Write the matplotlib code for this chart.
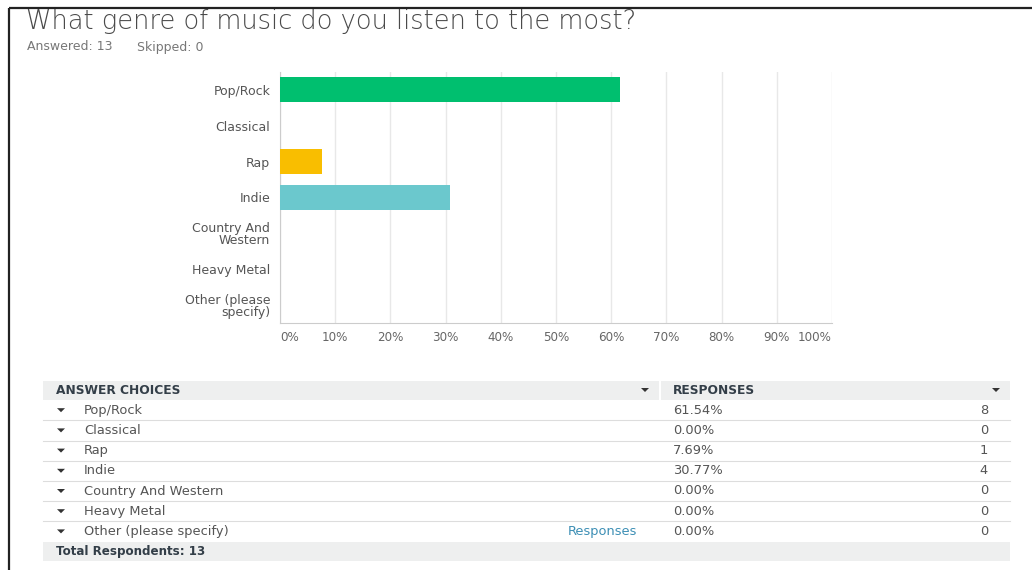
import matplotlib.pyplot as plt
from matplotlib.patches import Rectangle, Polygon

# survey data
labels = ['Pop/Rock', 'Classical', 'Rap', 'Indie', 'Country And\nWestern',
          'Heavy Metal', 'Other (please\nspecify)']
percents = [61.54, 0.0, 7.69, 30.77, 0.0, 0.0, 0.0]
counts = [8, 0, 1, 4, 0, 0, 0]
answered = 13
skipped = 0
bar_colors = ['#00BF6F', '#507CB6', '#F9BE00', '#6BC8CD', '#FF8B4F', '#7D6C9E', '#D25F90']
xticks = list(range(0, 101, 10))

W, H = 1032, 570
fig = plt.figure(figsize=(W / 100, H / 100), dpi=100)
fig.patch.set_facecolor('white')

# full-figure layer in pixel units for the header, table and frame
bg = fig.add_axes([0, 0, 1, 1])
bg.set_xlim(0, W)
bg.set_ylim(H, 0)
bg.set_axis_off()

# page frame
bg.plot([9, W], [8, 8], color='#222222', lw=1.6, solid_capstyle='butt')
bg.plot([9, 9], [8, H], color='#222222', lw=1.6, solid_capstyle='butt')

bg.text(26, 21, 'What genre of music do you listen to the most?', fontsize=18.5,
        color='#4a4a4a', va='center', ha='left', fontweight='light')
bg.text(27, 47, f'Answered: {answered}', fontsize=9, color='#777777', va='center')
bg.text(137, 47, f'Skipped: {skipped}', fontsize=9, color='#777777', va='center')

# bar chart
ax = fig.add_axes([280 / W, 1 - 323 / H, 552 / W, 251 / H])
ax.barh(range(len(labels)), percents, height=0.7, color=bar_colors, zorder=3)
ax.set_xlim(0, 100)
ax.set_ylim(len(labels) - 0.5, -0.5)
ax.set_xticks(xticks)
ticklabels = ax.set_xticklabels([f'{t}%' for t in xticks], fontsize=8.6, color='#666666')
ticklabels[0].set_ha('left')
ticklabels[-1].set_ha('right')
ax.set_yticks(range(len(labels)))
ax.set_yticklabels(labels, fontsize=9, color='#555555', linespacing=0.95)
ax.tick_params(length=0, pad=7)
ax.tick_params(axis='x', pad=6)
ax.grid(axis='x', color='#e8e8e8', lw=1, zorder=0)
for side in ['top', 'right']:
    ax.spines[side].set_visible(False)
for side in ['left', 'bottom']:
    ax.spines[side].set_color('#cccccc')
ax.set_facecolor('none')


def tri(x, y, w=8, h=4, color='#333333'):
    bg.add_patch(Polygon([[x - w / 2, y - h / 2], [x + w / 2, y - h / 2], [x, y + h / 2]],
                         closed=True, color=color, lw=0))


# results table
left, right, split = 43, 1010, 660
row_h = 20.2
head_y = 390
bg.add_patch(Rectangle((left, head_y - 9.5), split - 1 - left, 19, color='#eeefef', lw=0))
bg.add_patch(Rectangle((split + 1, head_y - 9.5), right - split - 1, 19, color='#eeefef', lw=0))
bg.text(56, head_y, 'ANSWER CHOICES', fontsize=8.8, fontweight='bold', color='#333e48', va='center')
bg.text(673, head_y, 'RESPONSES', fontsize=8.8, fontweight='bold', color='#333e48', va='center')
tri(645, head_y)
tri(996, head_y)

for i, (name, pct, n) in enumerate(zip(labels, percents, counts)):
    y = head_y + row_h * (i + 1)
    tri(61, y)
    bg.text(84, y, name.replace('\n', ' '), fontsize=9.4, color='#555555', va='center')
    bg.text(673, y, f'{pct:.2f}%', fontsize=9.4, color='#555555', va='center')
    bg.text(984, y, str(n), fontsize=9.4, color='#555555', va='center', ha='center')
    if i < len(labels) - 1:
        bg.plot([left, right], [y + row_h / 2, y + row_h / 2], color='#dddddd', lw=0.8)
    else:
        bg.text(637, y, 'Responses', fontsize=9.4, color='#3d8fb5', va='center', ha='right')

tot_y = head_y + row_h * (len(labels) + 1)
bg.add_patch(Rectangle((left, tot_y - 9.5), right - left, 19, color='#eeefef', lw=0))
bg.text(56, tot_y, f'Total Respondents: {answered}', fontsize=8.6, fontweight='bold',
        color='#333e48', va='center')

fig.savefig('out.png', dpi=100)
